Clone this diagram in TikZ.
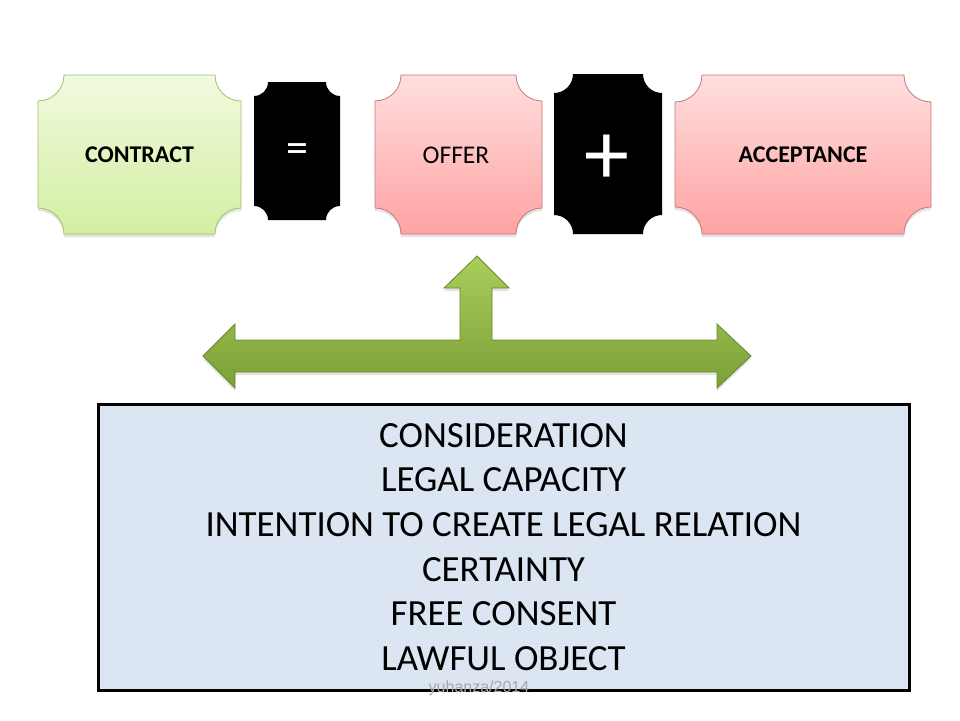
\documentclass[tikz,border=0pt]{standalone}
\usepackage{fontspec}
\setmainfont{Carlito}
\newfontfamily\wmfont{Liberation Sans}
\usetikzlibrary{shadows}
\definecolor{greentop}{HTML}{F1FADF}
\definecolor{greenbot}{HTML}{D3EEA2}
\definecolor{greenedge}{HTML}{A3C36A}
\definecolor{pinktop}{HTML}{FFDEDE}
\definecolor{pinkbot}{HTML}{FFA3A3}
\definecolor{pinkedge}{HTML}{C47A7A}
\definecolor{boxfill}{HTML}{DCE6F2}
\definecolor{arrtop}{HTML}{A9CE5B}
\definecolor{arrbot}{HTML}{7C9F37}
\definecolor{arredge}{HTML}{66882A}
\definecolor{wmgray}{HTML}{A6A6A6}
% plaque outline: x1 y1 x2 y2 r (pixel units, y downwards)
\newcommand{\plaquepath}[5]{(#1+#5,-#2) -- (#3-#5,-#2) arc[start angle=180,end angle=270,radius=#5pt]
  -- (#3,-#4+#5) arc[start angle=90,end angle=180,radius=#5pt]
  -- (#1+#5,-#4) arc[start angle=0,end angle=90,radius=#5pt]
  -- (#1,-#2-#5) arc[start angle=-90,end angle=0,radius=#5pt] -- cycle}
\tikzset{
  softshadow/.style={drop shadow={opacity=0.22,shadow xshift=0pt,shadow yshift=-3pt}},
  greenplaque/.style={draw=greenedge,line width=0.8pt,top color=greentop,bottom color=greenbot,softshadow},
  pinkplaque/.style={draw=pinkedge,line width=0.8pt,top color=pinktop,bottom color=pinkbot,softshadow},
  blackplaque/.style={fill=black,draw=none},
  toplabel/.style={font=\fontsize{24}{28}\selectfont,text=black,inner sep=0pt},
  symlabel/.style={text=white,inner sep=0pt},
  bigarrow/.style={draw=arredge,line width=0.8pt,top color=arrtop,bottom color=arrbot,softshadow},
  listbox/.style={draw=black,line width=3pt,fill=boxfill,minimum width=811pt,minimum height=286pt,
    align=center,font=\fontsize{36.9}{44.6}\selectfont,inner sep=0pt},
  watermark/.style={font=\wmfont\fontsize{16}{18}\selectfont,text=wmgray,inner sep=0pt}
}
\begin{document}
\begin{tikzpicture}[x=1pt,y=1pt]
\useasboundingbox[fill=white] (0,0) rectangle (960,-720);
% top plaques
\path[greenplaque] \plaquepath{38}{75}{241}{234}{26};
\path[blackplaque] \plaquepath{254}{82}{340}{220}{14};
\path[pinkplaque] \plaquepath{375}{75}{542}{234}{26};
\path[blackplaque] \plaquepath{554}{74}{662}{234}{19};
\path[pinkplaque] \plaquepath{675}{75}{931}{234}{27};
\node[toplabel,font=\bfseries\fontsize{24}{28}\selectfont] (contract) at (139.5,-155) {CONTRACT};
\node[symlabel,font=\fontsize{44}{48}\selectfont] (equals) at (297,-153) {=};
\node[toplabel,font=\fontsize{25.5}{28}\selectfont] (offer) at (456,-155) {OFFER};
\node[symlabel,font=\fontsize{90}{96}\selectfont] (plus) at (607,-160) {+};
\node[toplabel,font=\bfseries\fontsize{24}{28}\selectfont] (acceptance) at (803,-155) {ACCEPTANCE};
% green three-way arrow
\path[bigarrow] (203,-356) -- (235,-324) -- (235,-340) -- (460,-340) -- (460,-288) -- (444,-288)
  -- (477,-256) -- (509,-288) -- (492,-288) -- (492,-340) -- (717,-340) -- (717,-324)
  -- (751,-356) -- (717,-388) -- (717,-372) -- (235,-372) -- (235,-388) -- cycle;
% list box
\node[listbox] (list) at (503.5,-547) {CONSIDERATION\\LEGAL CAPACITY\\INTENTION TO CREATE LEGAL RELATION\\CERTAINTY\\FREE CONSENT\\LAWFUL OBJECT};
\node[watermark] (wm) at (479,-688) {yuhanza/2014};
\end{tikzpicture}
\end{document}
